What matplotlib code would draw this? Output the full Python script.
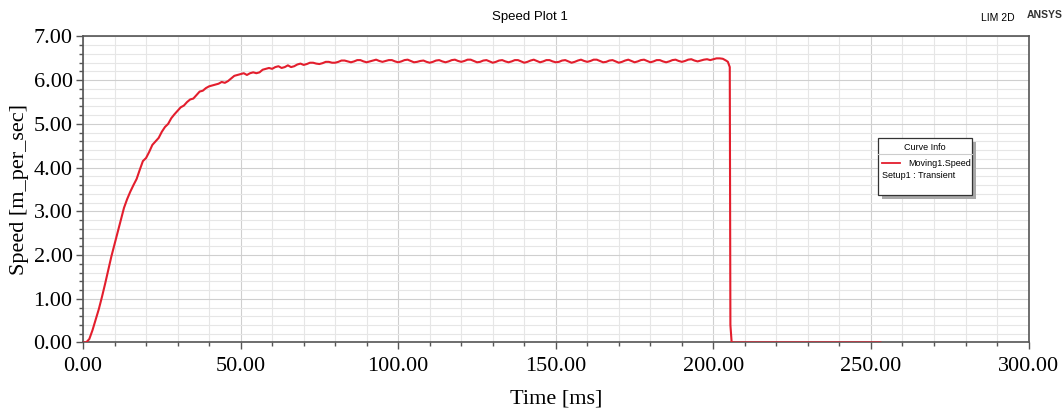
import matplotlib.pyplot as plt
import matplotlib.patches as mpatches
from matplotlib.lines import Line2D
from matplotlib.ticker import MultipleLocator, FormatStrFormatter
import numpy as np

# Moving1.Speed sampled every 1 ms, 0..204 ms
rise_speed = [
    0.00, 0.00, 0.08, 0.28, 0.52, 0.76, 1.04, 1.34, 1.66, 1.97,
    2.25, 2.53, 2.80, 3.08, 3.28, 3.45, 3.60, 3.74, 3.95, 4.15,
    4.22, 4.36, 4.52, 4.60, 4.68, 4.82, 4.93, 5.00, 5.13, 5.22,
    5.30, 5.38, 5.42, 5.50, 5.56, 5.58, 5.66, 5.74, 5.76, 5.82,
    5.86, 5.88, 5.90, 5.92, 5.96, 5.94, 5.98, 6.04, 6.10, 6.12,
    6.14, 6.16, 6.12, 6.16, 6.18, 6.16, 6.18, 6.24, 6.26, 6.28,
    6.26, 6.30, 6.32, 6.28, 6.30, 6.34, 6.30, 6.32, 6.36, 6.38,
]
steady_speed = [
    6.35, 6.37, 6.40, 6.40, 6.38,
    6.37, 6.39, 6.42, 6.42, 6.40,
    6.40, 6.42, 6.45, 6.45, 6.43,
    6.41, 6.43, 6.46, 6.46, 6.43,
    6.41, 6.43, 6.45, 6.47, 6.44,
    6.42, 6.44, 6.46, 6.46, 6.43,
    6.41, 6.43, 6.46, 6.47, 6.44,
    6.41, 6.42, 6.44, 6.45, 6.42,
    6.40, 6.42, 6.45, 6.46, 6.43,
    6.41, 6.43, 6.46, 6.47, 6.44,
    6.42, 6.44, 6.47, 6.47, 6.44,
    6.41, 6.42, 6.45, 6.46, 6.43,
    6.40, 6.42, 6.45, 6.46, 6.43,
    6.41, 6.43, 6.46, 6.46, 6.43,
    6.40, 6.42, 6.45, 6.47, 6.44,
    6.41, 6.43, 6.46, 6.46, 6.43,
    6.41, 6.42, 6.45, 6.46, 6.43,
    6.40, 6.42, 6.45, 6.47, 6.44,
    6.42, 6.44, 6.47, 6.47, 6.44,
    6.41, 6.42, 6.45, 6.46, 6.43,
    6.40, 6.42, 6.45, 6.47, 6.44,
    6.41, 6.43, 6.46, 6.47, 6.44,
    6.41, 6.43, 6.46, 6.46, 6.43,
    6.41, 6.43, 6.46, 6.47, 6.44,
    6.42, 6.44, 6.47, 6.48, 6.45,
    6.43, 6.45, 6.47, 6.48, 6.46,
    6.48, 6.50, 6.50, 6.49, 6.45,
]
# switch-off: sharp drop then zero
tail_time = [204.6, 205.2, 205.4, 205.8, 253.0]
tail_speed = [6.42, 6.30, 0.40, 0.00, 0.00]

time_ms = list(np.arange(0, len(rise_speed) + len(steady_speed), 1.0)) + tail_time
speed = rise_speed + steady_speed + tail_speed

serif = ['Liberation Serif', 'DejaVu Serif']
sans = ['Liberation Sans', 'DejaVu Sans']

fig = plt.figure(figsize=(10.63, 4.11), dpi=100)
ax = fig.add_axes([0.0781, 0.1667, 0.8895, 0.7445])

ax.plot(time_ms, speed, color='#e31e2d', lw=1.5, zorder=3)

ax.set_xlim(0, 300)
ax.set_ylim(0, 7)
ax.xaxis.set_major_locator(MultipleLocator(50))
ax.xaxis.set_minor_locator(MultipleLocator(10))
ax.yaxis.set_major_locator(MultipleLocator(1))
ax.yaxis.set_minor_locator(MultipleLocator(0.2))
ax.xaxis.set_major_formatter(FormatStrFormatter('%.2f'))
ax.yaxis.set_major_formatter(FormatStrFormatter('%.2f'))

ax.grid(which='major', color='#cfcfcf', lw=0.8)
ax.grid(which='minor', color='#e6e6e6', lw=0.8)
ax.set_axisbelow(True)

ax.tick_params(which='major', direction='out', length=5, width=1, color='#555555',
               labelsize=16, pad=2.5)
ax.tick_params(axis='x', which='major', pad=5.5)
ax.tick_params(which='minor', direction='out', length=3, width=1, color='#555555')
for lbl in ax.get_xticklabels() + ax.get_yticklabels():
    lbl.set_family(serif)
for s in ax.spines.values():
    s.set_color('#555555')
    s.set_linewidth(1.2)

ax.set_xlabel('Time [ms]', family=serif, fontsize=16, labelpad=10)
ax.set_ylabel('Speed [m_per_sec]', family=serif, fontsize=16, labelpad=3)

fig.text(0.499, 0.958, 'Speed Plot 1', family=sans, fontsize=9.5, ha='center', va='center')
fig.text(0.939, 0.956, 'LIM 2D', family=sans, fontsize=7.5, ha='center', va='center')
fig.text(0.983, 0.963, 'ANSYS', family=sans, fontsize=7.5, weight='bold', ha='center',
         va='center', color='#333333')

# "Curve Info" box
bx0, bx1 = 0.826, 0.9144
by0, by1 = 0.5255, 0.6642
fig.patches.append(mpatches.Rectangle((bx0 + 0.004, by0 - 0.01), bx1 - bx0, by1 - by0,
                                      transform=fig.transFigure, facecolor='#a8a8a8',
                                      edgecolor='none', zorder=5))
fig.patches.append(mpatches.Rectangle((bx0, by0), bx1 - bx0, by1 - by0,
                                      transform=fig.transFigure, facecolor='white',
                                      edgecolor='#333333', lw=0.9, zorder=6))
fig.lines.append(Line2D([bx0, bx1], [0.625, 0.625], transform=fig.transFigure,
                        color='#cccccc', lw=0.8, zorder=7))
fig.text((bx0 + bx1) / 2, 0.640, 'Curve Info', family=sans, fontsize=6.5,
         ha='center', va='center', zorder=7)
fig.lines.append(Line2D([0.8295, 0.8465], [0.6027, 0.6027], transform=fig.transFigure,
                        color='#e31e2d', lw=1.3, zorder=7))
fig.text(0.854, 0.6027, 'Moving1.Speed', family=sans, fontsize=6.5,
         ha='left', va='center', zorder=7)
fig.text(0.8295, 0.5725, 'Setup1 : Transient', family=sans, fontsize=6.5,
         ha='left', va='center', zorder=7)

fig.savefig('out.png', dpi=100)
